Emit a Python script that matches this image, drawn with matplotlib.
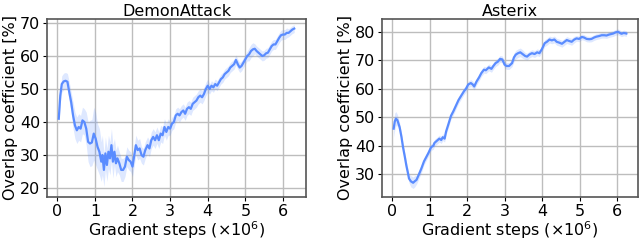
import matplotlib
matplotlib.use("Agg")
import matplotlib.pyplot as plt
import numpy as np

# ---- DemonAttack ----
da_x = [0.04, 0.08, 0.12, 0.17, 0.22, 0.27, 0.32, 0.37, 0.42, 0.47, 0.52, 0.57, 0.62, 0.67,
        0.72, 0.77, 0.82, 0.87, 0.92, 0.97, 1.02, 1.07, 1.12, 1.17, 1.20, 1.24, 1.28, 1.32,
        1.36, 1.40, 1.44, 1.48, 1.52, 1.56, 1.60, 1.65, 1.70, 1.75, 1.80, 1.85, 1.90, 1.95,
        2.00, 2.05, 2.09, 2.14, 2.19, 2.24, 2.29, 2.34, 2.40, 2.45, 2.50, 2.55, 2.60, 2.65,
        2.70, 2.75, 2.80, 2.85, 2.90, 2.95, 3.00, 3.05, 3.10, 3.15, 3.20, 3.25, 3.30, 3.35,
        3.40, 3.45, 3.50, 3.55, 3.60, 3.65, 3.70, 3.75, 3.80, 3.85, 3.90, 3.95, 4.00, 4.05,
        4.10, 4.15, 4.20, 4.25, 4.30, 4.35, 4.40, 4.45, 4.50, 4.55, 4.60, 4.65, 4.70, 4.75,
        4.80, 4.85, 4.90, 4.95, 5.00, 5.05, 5.10, 5.15, 5.20, 5.25, 5.30, 5.35, 5.40, 5.45,
        5.50, 5.55, 5.60, 5.65, 5.70, 5.75, 5.80, 5.85, 5.90, 5.95, 6.00, 6.05, 6.10, 6.15,
        6.20, 6.25, 6.30]
da_y = [41.0, 48.0, 51.5, 52.3, 52.5, 52.2, 49.0, 46.0, 42.0, 39.0, 37.5, 38.5, 38.0, 40.5,
        40.0, 38.0, 34.0, 33.5, 33.8, 36.5, 35.0, 32.5, 31.0, 28.0, 30.0, 25.5, 30.5, 27.0,
        31.0, 29.0, 33.0, 28.0, 31.0, 27.5, 29.0, 27.5, 25.5, 25.5, 26.5, 29.5, 28.5, 28.0,
        26.5, 30.0, 33.0, 31.5, 32.0, 30.0, 29.5, 31.5, 33.0, 32.0, 34.5, 35.5, 34.5, 36.0,
        34.5, 36.5, 36.0, 38.5, 37.0, 38.5, 38.0, 39.5, 40.0, 42.0, 42.5, 42.0, 43.0, 43.5,
        42.5, 44.0, 44.5, 44.0, 45.5, 46.0, 46.5, 47.5, 48.0, 47.5, 48.5, 50.0, 51.0, 50.0,
        51.0, 50.5, 51.5, 51.0, 52.0, 53.0, 53.5, 54.5, 55.0, 55.5, 56.5, 57.0, 57.5, 58.8,
        57.5, 56.5, 57.0, 58.0, 59.0, 60.0, 60.5, 61.5, 62.0, 62.2, 61.5, 61.0, 60.5, 60.0,
        60.2, 60.8, 61.0, 62.0, 63.0, 63.5, 63.5, 64.5, 65.5, 66.3, 66.5, 66.5, 67.0, 67.0,
        67.5, 68.0, 68.3]
da_std = [2.0, 2.0, 2.5, 2.5, 2.5, 2.5, 3.0, 3.0, 4.0, 4.0, 4.0, 4.0, 4.0, 4.0,
          4.0, 5.0, 6.0, 7.0, 7.0, 8.0, 8.0, 7.0, 7.0, 6.0, 6.0, 5.0, 5.0, 5.0,
          5.0, 5.0, 5.0, 5.0, 4.0, 4.0, 4.0, 3.5, 3.5, 3.5, 3.0, 3.0, 3.0, 3.0,
          3.0, 3.0, 3.0, 3.0, 3.0, 2.5, 2.5, 2.5, 2.5, 2.5, 2.5, 2.5, 2.5, 2.5,
          2.5, 2.5, 2.5, 2.5, 2.5, 2.5, 2.0, 2.0, 2.0, 2.0, 2.0, 2.0, 2.0, 2.0,
          2.0, 2.0, 2.0, 2.0, 2.0, 2.0, 2.0, 2.0, 2.0, 2.0, 2.0, 2.0, 2.0, 1.5,
          1.5, 1.5, 1.5, 1.5, 1.5, 1.5, 1.5, 1.5, 1.5, 1.5, 1.5, 1.5, 1.5, 1.5,
          1.5, 1.5, 1.5, 1.5, 1.5, 1.5, 2.0, 2.0, 2.0, 1.5, 1.5, 1.5, 1.5, 1.5,
          1.5, 1.5, 1.5, 1.5, 1.5, 1.5, 1.5, 1.5, 1.5, 1.5, 1.5, 1.5, 1.5, 1.2,
          1.2, 1.2, 1.2]

# ---- Asterix ----
as_x = [0.04, 0.07, 0.10, 0.14, 0.20, 0.25, 0.29, 0.34, 0.38, 0.42, 0.45, 0.50, 0.56, 0.60,
        0.65, 0.70, 0.78, 0.85, 0.91, 0.97, 1.04, 1.10, 1.13, 1.20, 1.26, 1.31, 1.35, 1.40,
        1.44, 1.50, 1.57, 1.63, 1.70, 1.77, 1.84, 1.92, 1.97, 2.03, 2.10, 2.15, 2.19, 2.25,
        2.32, 2.38, 2.45, 2.50, 2.58, 2.65, 2.70, 2.76, 2.82, 2.88, 2.94, 3.00, 3.05, 3.12,
        3.20, 3.25, 3.30, 3.36, 3.42, 3.48, 3.55, 3.60, 3.66, 3.73, 3.80, 3.87, 3.93, 4.00,
        4.07, 4.13, 4.20, 4.26, 4.33, 4.39, 4.46, 4.53, 4.60, 4.66, 4.72, 4.79, 4.85, 4.92,
        4.99, 5.06, 5.12, 5.19, 5.26, 5.32, 5.39, 5.45, 5.52, 5.59, 5.66, 5.72, 5.78, 5.84,
        5.90, 5.96, 6.03, 6.08, 6.12, 6.18, 6.25]
as_y = [46.0, 48.5, 49.5, 49.0, 46.5, 43.0, 39.5, 36.0, 33.0, 30.5, 28.5, 27.5, 27.0, 27.5,
        28.0, 29.5, 32.0, 34.5, 36.0, 37.5, 39.5, 40.0, 41.0, 41.8, 42.5, 42.0, 43.0, 42.5,
        45.0, 47.5, 50.5, 52.0, 54.0, 56.0, 57.5, 59.2, 60.0, 61.5, 62.0, 61.5, 60.8, 62.5,
        64.0, 65.5, 66.7, 66.5, 67.5, 67.0, 68.0, 69.0, 69.5, 70.5, 70.3, 68.5, 68.0, 68.0,
        69.0, 71.0, 72.0, 72.5, 72.8, 72.2, 71.5, 71.3, 72.0, 72.5, 72.2, 72.8, 72.5, 74.0,
        76.0, 76.5, 77.3, 77.0, 77.3, 76.5, 76.2, 75.8, 76.5, 77.1, 76.8, 76.5, 77.2, 77.7,
        77.5, 78.2, 78.0, 77.5, 77.4, 77.5, 78.0, 78.3, 78.5, 78.8, 78.8, 78.7, 79.0, 79.2,
        79.4, 79.8, 80.0, 79.6, 79.3, 79.6, 79.4]
as_std = [3.0, 3.0, 2.5, 2.0, 1.5, 1.5, 1.5, 1.5, 1.5, 1.5, 1.5, 2.0, 2.0, 2.0,
          1.5, 1.5, 1.5, 1.2, 1.2, 1.2, 1.2, 1.2, 1.2, 1.2, 1.2, 1.2, 1.2, 1.2,
          1.2, 1.2, 1.2, 1.2, 1.2, 1.2, 1.2, 1.2, 1.2, 1.2, 1.2, 1.2, 1.2, 1.2,
          1.2, 1.2, 1.2, 1.2, 1.2, 1.2, 1.2, 1.2, 1.2, 1.2, 1.2, 1.2, 1.2, 1.2,
          1.2, 1.5, 1.5, 1.5, 1.5, 1.5, 1.2, 1.2, 1.2, 1.2, 1.2, 1.2, 1.2, 1.2,
          1.2, 1.2, 1.2, 1.2, 1.2, 1.2, 1.2, 1.2, 1.2, 1.2, 1.2, 1.2, 1.2, 1.0,
          1.0, 1.0, 1.0, 1.0, 1.0, 1.0, 1.0, 1.0, 1.0, 1.0, 1.0, 1.0, 1.0, 1.0,
          1.0, 1.0, 1.0, 1.0, 1.0, 1.0, 1.0]

titles = ["DemonAttack", "Asterix"]
xticks = [0, 1, 2, 3, 4, 5, 6]
yticks_list = [[20, 30, 40, 50, 60, 70], [30, 40, 50, 60, 70, 80]]
ylims = [(17.3, 71.2), (22.0, 84.5)]

LINE = "#5a8cff"
FS = 11.5

plt.rcParams['font.family'] = ['DejaVu Sans']
fig = plt.figure(figsize=(6.39, 2.41), dpi=100)
positions = [[47/639, 1-197/241, (306-47)/639, (197-19)/241],
             [382/639, 1-197/241, (638-382)/639, (197-19)/241]]

data = [(da_x, da_y, da_std), (as_x, as_y, as_std)]
for i, (xs, ys, ss) in enumerate(data):
    ax = fig.add_axes(positions[i])
    x = np.array(xs); y = np.array(ys); s = np.array(ss)
    ax.fill_between(x, y - s, y + s, color=LINE, alpha=0.2, linewidth=0)
    ax.plot(x, y, color=LINE, linewidth=1.6)
    ax.set_title(titles[i], fontsize=FS, pad=1)
    ax.set_xticks(xticks)
    ax.set_yticks(yticks_list[i])
    ax.set_ylim(*ylims[i])
    ax.tick_params(labelsize=FS, length=3, pad=2)
    ax.grid(True, color="#bdbdbd", linewidth=1.0)
    ax.set_axisbelow(True)
    for sp in ax.spines.values():
        sp.set_color("#555555")
        sp.set_linewidth(1.2)
    ax.set_xlabel("Gradient steps ($\\times 10^6$)", fontsize=FS, labelpad=0)
    ax.set_ylabel("Overlap coefficient [%]", fontsize=FS, labelpad=1)

fig.savefig("out.png", dpi=100)
